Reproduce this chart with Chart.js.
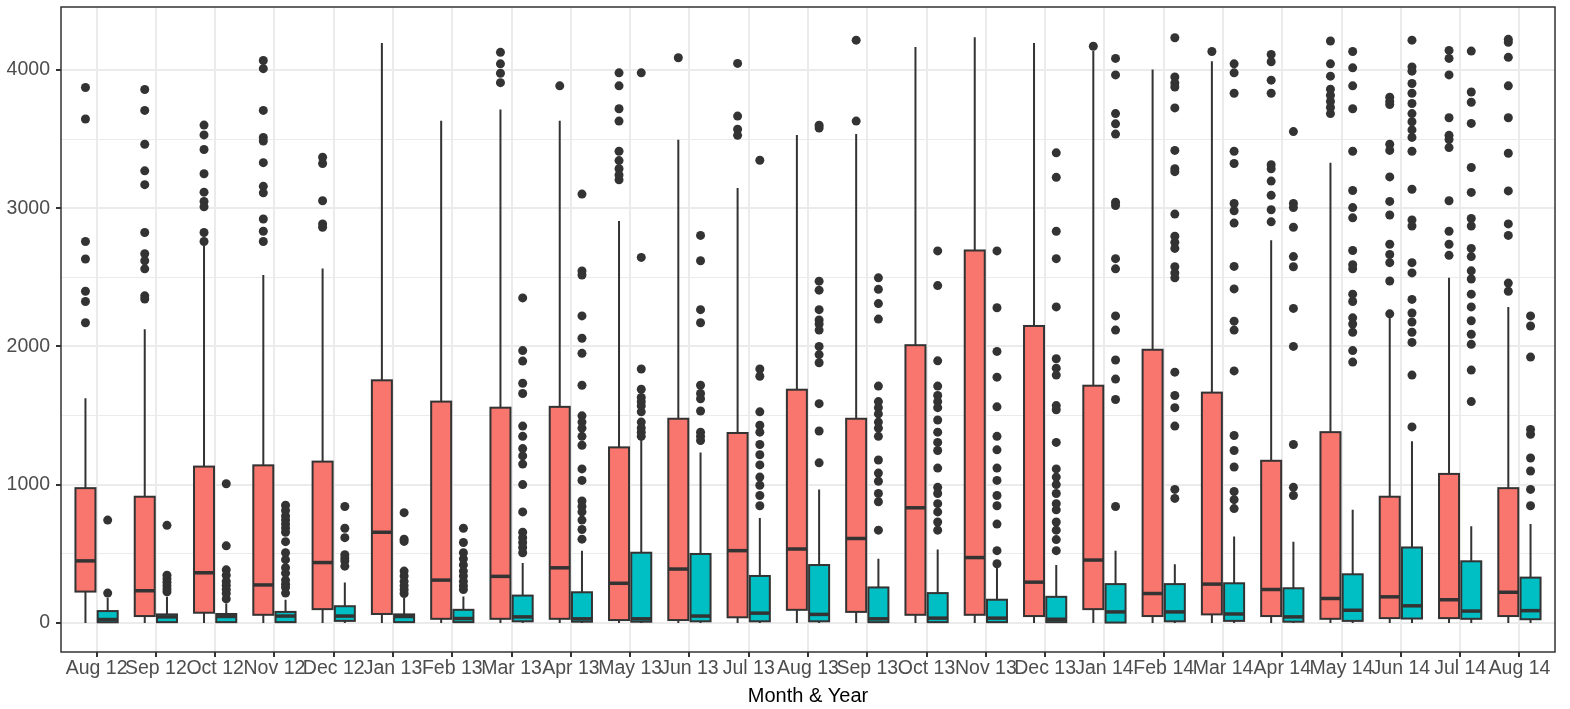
<!DOCTYPE html>
<html>
<head>
<meta charset="utf-8">
<script src="https://cdn.jsdelivr.net/npm/chart.js@4/dist/chart.umd.min.js"></script>
<style>
    body { margin: 0; background: #ffffff; }
    #wrap { width: 1570px; height: 709px; }
</style>
</head>
<body>
<div id="wrap"><canvas id="boxChart" width="1570" height="709"></canvas></div>
<script>
// Categories
const months = ['Aug 12', 'Sep 12', 'Oct 12', 'Nov 12', 'Dec 12', 'Jan 13', 'Feb 13', 'Mar 13', 'Apr 13',
    'May 13', 'Jun 13', 'Jul 13', 'Aug 13', 'Sep 13', 'Oct 13', 'Nov 13', 'Dec 13', 'Jan 14', 'Feb 14',
    'Mar 14', 'Apr 14', 'May 14', 'Jun 14', 'Jul 14', 'Aug 14'];

const yTicks = [0, 500, 1000, 1500, 2000, 2500, 3000, 3500, 4000];

// Red series (left box of each month)
const redLow = [0, 0, 0, 0, 0, 0, 0, 0, 0, 0, 0, 0, 0, 0, 0, 0, 0, 0, 0, 0, 0, 0, 0, 0, 0];
const redQ1 = [227, 50, 74, 59, 100, 65, 30, 30, 30, 21, 21, 41, 95, 80, 59, 59, 50, 100, 50, 62, 50, 30, 35, 35, 50];
const redMedian = [449, 233, 363, 275, 437, 656, 310, 337, 399, 287, 390, 523, 535, 611, 833, 473, 295, 455, 213, 281, 242, 177, 189, 168, 222];
const redQ3 = [975, 913, 1131, 1140, 1167, 1755, 1601, 1557, 1563, 1270, 1477, 1374, 1687, 1477, 2009, 2694, 2148, 1716, 1976, 1666, 1173, 1380, 913, 1078, 975];
const redHigh = [1625, 2124, 2729, 2517, 2564, 4195, 3633, 3713, 3633, 2907, 3495, 3146, 3530, 3536, 4165, 4236, 4195, 4136, 4003, 4062, 2768, 3329, 2213, 2496, 2286];
const redOutliers = [
    [3873, 3645, 2759, 2632, 2399, 2325, 2171],
    [3858, 3707, 3462, 3270, 3170, 2824, 2670, 2620, 2561, 2366, 2343],
    [3601, 3530, 3424, 3249, 3116, 3049, 3010, 2824, 2759],
    [4068, 4009, 3707, 3512, 3486, 3329, 3158, 3111, 2922, 2833, 2759],
    [3368, 3323, 3054, 2886, 2862],
    [],
    [],
    [4127, 4044, 3976, 3908],
    [3885],
    [3979, 3885, 3719, 3630, 3412, 3344, 3285, 3240, 3205],
    [4088],
    [4047, 3666, 3571, 3527],
    [],
    [4215, 3630],
    [],
    [],
    [],
    [4171],
    [],
    [4133],
    [4112, 4059, 3926, 3831, 3314, 3285, 3196, 3093, 2989, 2901],
    [4209, 4044, 3955, 3861, 3817, 3772, 3728, 3684],
    [3802, 3772, 3749, 3462, 3418, 3226, 3049, 2951, 2739, 2665, 2606, 2473, 2236],
    [4141, 4083, 3964, 3654, 3527, 3497, 3438, 3054, 2833, 2739, 2659],
    [4221, 4200, 4091, 3885, 3654, 3397, 3125, 2886, 2803, 2458, 2399]
];

// Teal series (right box of each month)
const blueLow = [0, 0, 0, 0, 0, 0, 0, 0, 0, 0, 0, 0, 0, 0, 0, 0, 0, 0, 0, 0, 0, 0, 0, 0, 0];
const blueQ1 = [5, 6, 6, 6, 15, 6, 6, 12, 9, 9, 12, 12, 12, 6, 6, 6, 6, 3, 12, 15, 9, 15, 32, 30, 27];
const blueMedian = [25, 44, 47, 50, 50, 47, 32, 44, 30, 30, 50, 71, 62, 30, 35, 35, 27, 80, 80, 65, 44, 92, 124, 86, 89];
const blueQ3 = [86, 62, 65, 80, 121, 62, 95, 198, 222, 508, 499, 340, 419, 257, 216, 168, 189, 281, 281, 287, 251, 352, 546, 446, 328];
const blueHigh = [183, 190, 140, 168, 292, 180, 192, 434, 523, 1329, 1232, 759, 966, 464, 532, 399, 419, 523, 425, 626, 588, 818, 1315, 700, 715];
const blueOutliers = [
    [744, 216],
    [706, 346, 320, 295, 270, 245, 225],
    [1007, 558, 384, 346, 300, 272, 242, 213, 174],
    [851, 813, 774, 745, 715, 686, 656, 588, 508, 458, 400, 360, 310, 280, 257, 216],
    [842, 685, 617, 493, 470, 449, 411],
    [798, 606, 590, 375, 340, 301, 270, 240, 213],
    [685, 582, 508, 464, 420, 375, 340, 301, 270, 242],
    [2351, 1970, 1894, 1734, 1660, 1424, 1350, 1261, 1208, 1149, 1001, 803, 656, 617, 582, 546, 508],
    [3102, 2546, 2517, 2221, 2059, 1950, 1719, 1498, 1453, 1409, 1350, 1285, 1114, 1031, 883, 842, 803, 744, 676, 606],
    [3979, 2644, 1837, 1690, 1631, 1600, 1570, 1527, 1453, 1410, 1380, 1350],
    [2803, 2620, 2266, 2171, 1719, 1660, 1622, 1533, 1380, 1350, 1320],
    [3347, 1837, 1784, 1527, 1430, 1380, 1291, 1217, 1143, 1055, 996, 922, 848],
    [3600, 3580, 2472, 2407, 2266, 2192, 2162, 2118, 2000, 1941, 1882, 1586, 1388, 1158],
    [2496, 2413, 2310, 2198, 1713, 1601, 1557, 1512, 1453, 1409, 1350, 1179, 1084, 1025, 936, 877, 671],
    [2691, 2440, 1896, 1713, 1645, 1601, 1557, 1468, 1380, 1306, 1247, 1120, 981, 936, 863, 803, 730, 671],
    [2691, 2280, 1964, 1778, 1563, 1350, 1252, 1120, 1031, 922, 848, 715, 523, 428],
    [3400, 3223, 2833, 2635, 2286, 1911, 1843, 1793, 1572, 1542, 1306, 1114, 1055, 1001, 936, 863, 818, 730, 671, 603, 523],
    [4083, 3964, 3684, 3610, 3536, 3043, 3019, 2635, 2561, 2221, 2118, 1902, 1764, 1616, 842],
    [4233, 3949, 3905, 3876, 3725, 3418, 3285, 3264, 2957, 2797, 2753, 2709, 2576, 2532, 2496, 1814, 1645, 1557, 1424, 966, 901],
    [4044, 3979, 3831, 3412, 3323, 3034, 2981, 2892, 2579, 2416, 2183, 2118, 1823, 1356, 1247, 1128, 951, 892, 827],
    [3554, 3034, 3004, 2862, 2650, 2576, 2275, 2000, 1291, 981, 922],
    [4133, 4015, 3885, 3719, 3412, 3128, 3004, 2930, 2694, 2591, 2561, 2378, 2325, 2207, 2162, 2103, 1970, 1887],
    [4215, 4021, 3991, 3902, 3831, 3757, 3684, 3625, 3566, 3512, 3412, 3137, 2915, 2871, 2606, 2532, 2340, 2242, 2177, 2103, 2029, 1793, 1418],
    [4136, 3840, 3766, 3613, 3294, 3114, 2925, 2871, 2709, 2650, 2547, 2488, 2378, 2286, 2186, 2088, 2015, 1829, 1601],
    [2221, 2148, 1923, 1400, 1365, 1193, 1099, 966, 848]
];

// dodge layout (in category units)
const dodge = 0.1875;
const boxWidth = 0.3375;
const ink = '#333333';

const series = [
    { offset: -dodge, fill: '#F8766D', low: redLow, q1: redQ1, med: redMedian, q3: redQ3, high: redHigh, out: redOutliers },
    { offset: dodge, fill: '#00BFC4', low: blueLow, q1: blueQ1, med: blueMedian, q3: blueQ3, high: blueHigh, out: blueOutliers }
];

function outlierPoints(s) {
    const pts = [];
    s.out.forEach((list, i) => {
        list.forEach(v => pts.push({ x: i + s.offset, y: v }));
    });
    return pts;
}

// boxes, whiskers and medians drawn through the chart scales
const boxPlugin = {
    id: 'boxes',
    afterDatasetsDraw(chart) {
        const ctx = chart.ctx;
        const xs = chart.scales.x;
        const ys = chart.scales.y;
        ctx.save();
        series.forEach(s => {
            months.forEach((m, i) => {
                const c = i + s.offset;
                const xc = xs.getPixelForValue(c);
                const x0 = xs.getPixelForValue(c - boxWidth / 2);
                const x1 = xs.getPixelForValue(c + boxWidth / 2);
                const yLow = ys.getPixelForValue(s.low[i]);
                const yQ1 = ys.getPixelForValue(s.q1[i]);
                const yMed = ys.getPixelForValue(s.med[i]);
                const yQ3 = ys.getPixelForValue(s.q3[i]);
                const yHigh = ys.getPixelForValue(s.high[i]);

                ctx.strokeStyle = ink;
                ctx.lineWidth = 2;
                // whiskers
                ctx.beginPath();
                ctx.moveTo(xc, yQ3);
                ctx.lineTo(xc, yHigh);
                ctx.moveTo(xc, yQ1);
                ctx.lineTo(xc, yLow);
                ctx.stroke();

                // box
                ctx.fillStyle = s.fill;
                ctx.fillRect(x0, yQ3, x1 - x0, yQ1 - yQ3);
                ctx.strokeRect(x0, yQ3, x1 - x0, yQ1 - yQ3);

                // median
                ctx.lineWidth = 3.5;
                ctx.beginPath();
                ctx.moveTo(x0, yMed);
                ctx.lineTo(x1, yMed);
                ctx.stroke();
            });
        });
        ctx.restore();
    },
    afterDraw(chart) {
        const a = chart.chartArea;
        const ctx = chart.ctx;
        ctx.save();
        ctx.strokeStyle = ink;
        ctx.lineWidth = 1.5;
        ctx.strokeRect(a.left, a.top, a.right - a.left, a.bottom - a.top);
        ctx.restore();
    }
};

const ctx = document.getElementById('boxChart').getContext('2d');
const boxChart = new Chart(ctx, {
    type: 'scatter',
    data: {
        datasets: series.map(s => ({
            data: outlierPoints(s),
            backgroundColor: ink,
            borderWidth: 0,
            pointRadius: 4.5,
            pointHoverRadius: 4.5
        }))
    },
    options: {
        responsive: false,
        animation: false,
        layout: { padding: { top: 7, right: 15, left: 0, bottom: 0 } },
        plugins: {
            legend: { display: false },
            tooltip: { enabled: false }
        },
        scales: {
            x: {
                type: 'linear',
                min: -0.6,
                max: months.length - 1 + 0.6,
                afterBuildTicks: scale => {
                    scale.ticks = months.map((m, i) => ({ value: i }));
                },
                afterFit: scale => {
                    scale.height = 57;
                    scale.paddingLeft = 0;
                    scale.paddingRight = 0;
                },
                border: { display: false },
                grid: {
                    color: '#EBEBEB',
                    lineWidth: 2,
                    tickColor: ink,
                    tickWidth: 2,
                    tickLength: 5
                },
                ticks: {
                    autoSkip: false,
                    maxRotation: 0,
                    padding: 0,
                    color: '#4D4D4D',
                    font: { family: 'Liberation Sans', size: 19.5 },
                    callback: value => months[value]
                },
                title: {
                    display: true,
                    text: 'Month & Year',
                    color: '#000000',
                    font: { family: 'Liberation Sans', size: 20 },
                    padding: { top: 0, bottom: 1 }
                }
            },
            y: {
                min: -210,
                max: 4455,
                afterBuildTicks: scale => {
                    scale.ticks = yTicks.map(v => ({ value: v }));
                },
                afterFit: scale => {
                    scale.width = 61;
                    scale.paddingTop = 0;
                    scale.paddingBottom = 0;
                },
                border: { display: false },
                grid: {
                    color: '#EBEBEB',
                    lineWidth: c => (c.tick && c.tick.value % 1000 === 0) ? 2 : 1,
                    tickColor: c => (c.tick && c.tick.value % 1000 === 0) ? ink : 'rgba(0,0,0,0)',
                    tickWidth: 2,
                    tickLength: 5
                },
                ticks: {
                    padding: 6,
                    color: '#4D4D4D',
                    font: { family: 'Liberation Sans', size: 19.5 },
                    callback: value => (value % 1000 === 0 ? String(value) : '')
                }
            }
        }
    },
    plugins: [boxPlugin]
});
</script>
</body>
</html>
